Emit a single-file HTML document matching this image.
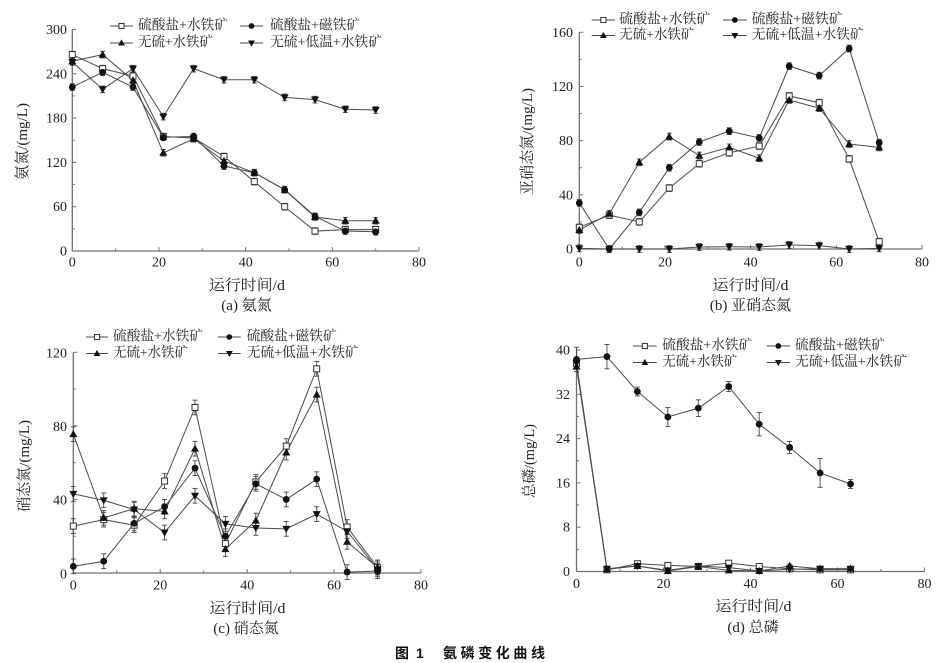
<!DOCTYPE html>
<html><head><meta charset="utf-8"><style>
html,body{margin:0;padding:0;background:#fff;}
svg{display:block;}
text{font-family:"Liberation Serif","Noto Serif CJK SC",serif;fill:#222;}
.t{font-size:14px;}
.lg{font-size:14px;}
.al{font-size:15px;}
.cap{font-family:"Liberation Sans","Noto Sans CJK SC",sans-serif;font-weight:bold;font-size:14px;fill:#111;}
</style></head><body>
<svg id="s" width="948" height="663" viewBox="0 0 948 663" xmlns="http://www.w3.org/2000/svg">
<g id="geo"></g>
<!-- Panel A ticks -->
<g class="t" text-anchor="middle" dominant-baseline="central">
<text x="72.3" y="263">0</text><text x="159" y="263">20</text><text x="245.7" y="263">40</text><text x="332.3" y="263">60</text><text x="419" y="263">80</text>
<text x="579.3" y="263">0</text><text x="665" y="263">20</text><text x="750.6" y="263">40</text><text x="836.3" y="263">60</text><text x="922" y="263">80</text>
<text x="73.3" y="586">0</text><text x="160.2" y="586">20</text><text x="247.2" y="586">40</text><text x="334.1" y="586">60</text><text x="421" y="586">80</text>
<text x="576.5" y="584.5">0</text><text x="663.5" y="584.5">20</text><text x="750.5" y="584.5">40</text><text x="837.5" y="584.5">60</text><text x="924.5" y="584.5">80</text>
</g>
<g class="t" text-anchor="end" dominant-baseline="central">
<text x="67" y="252">0</text><text x="67" y="207.7">60</text><text x="67" y="163.4">120</text><text x="67" y="119.1">180</text><text x="67" y="74.8">240</text><text x="67" y="30.5">300</text>
<text x="573" y="250">0</text><text x="573" y="195.8">40</text><text x="573" y="141.7">80</text><text x="573" y="87.5">120</text><text x="573" y="33.3">160</text>
<text x="67" y="575">0</text><text x="67" y="501">40</text><text x="67" y="427.5">80</text><text x="67" y="354">120</text>
<text x="570" y="572.5">0</text><text x="570" y="528.2">8</text><text x="570" y="483.9">16</text><text x="570" y="439.6">24</text><text x="570" y="395.3">32</text><text x="570" y="351">40</text>
</g>
<!-- axis titles -->
<g class="al" text-anchor="middle" dominant-baseline="central">
<text x="247" y="286" textLength="76" lengthAdjust="spacingAndGlyphs">运行时间/d</text>
<text x="246.5" y="306">(a) 氨氮</text>
<text x="750.5" y="286" textLength="76" lengthAdjust="spacingAndGlyphs">运行时间/d</text>
<text x="750.5" y="306">(b) 亚硝态氮</text>
<text x="247.5" y="609" textLength="76" lengthAdjust="spacingAndGlyphs">运行时间/d</text>
<text x="246" y="629">(c) 硝态氮</text>
<text x="753.5" y="607" textLength="76" lengthAdjust="spacingAndGlyphs">运行时间/d</text>
<text x="753" y="628">(d) 总磷</text>
<text transform="translate(23,141.5) rotate(-90)" textLength="77" lengthAdjust="spacingAndGlyphs">氨氮/(mg/L)</text>
<text transform="translate(528,141.5) rotate(-90)" textLength="107" lengthAdjust="spacingAndGlyphs">亚硝态氮/(mg/L)</text>
<text transform="translate(25,466) rotate(-90)" textLength="92" lengthAdjust="spacingAndGlyphs">硝态氮/(mg/L)</text>
<text transform="translate(530,461) rotate(-90)" textLength="74" lengthAdjust="spacingAndGlyphs">总磷/(mg/L)</text>
</g>
<!-- legends -->
<g class="lg" dominant-baseline="central">
<text x="138" y="26" textLength="90" lengthAdjust="spacingAndGlyphs">硫酸盐+水铁矿</text>
<text x="270" y="26" textLength="90" lengthAdjust="spacingAndGlyphs">硫酸盐+磁铁矿</text>
<text x="138" y="43" textLength="75" lengthAdjust="spacingAndGlyphs">无硫+水铁矿</text>
<text x="270" y="43" textLength="112" lengthAdjust="spacingAndGlyphs">无硫+低温+水铁矿</text>

<text x="619.3" y="20" textLength="91" lengthAdjust="spacingAndGlyphs">硫酸盐+水铁矿</text>
<text x="751.7" y="20" textLength="91" lengthAdjust="spacingAndGlyphs">硫酸盐+磁铁矿</text>
<text x="619.3" y="35.5" textLength="75" lengthAdjust="spacingAndGlyphs">无硫+水铁矿</text>
<text x="751.7" y="35.5" textLength="112" lengthAdjust="spacingAndGlyphs">无硫+低温+水铁矿</text>

<text x="113" y="337" textLength="90" lengthAdjust="spacingAndGlyphs">硫酸盐+水铁矿</text>
<text x="246.7" y="337" textLength="90" lengthAdjust="spacingAndGlyphs">硫酸盐+磁铁矿</text>
<text x="113" y="353.5" textLength="75" lengthAdjust="spacingAndGlyphs">无硫+水铁矿</text>
<text x="246.7" y="353.5" textLength="112" lengthAdjust="spacingAndGlyphs">无硫+低温+水铁矿</text>

<text x="662.3" y="346" textLength="90" lengthAdjust="spacingAndGlyphs">硫酸盐+水铁矿</text>
<text x="795" y="346" textLength="90" lengthAdjust="spacingAndGlyphs">硫酸盐+磁铁矿</text>
<text x="662.3" y="362.5" textLength="75" lengthAdjust="spacingAndGlyphs">无硫+水铁矿</text>
<text x="795" y="362.5" textLength="112" lengthAdjust="spacingAndGlyphs">无硫+低温+水铁矿</text>
</g>
<!-- caption -->
<text class="cap" x="395" y="658">图</text>
<text class="cap" x="416" y="658">1</text>
<text class="cap" x="443" y="658" letter-spacing="3.6">氨磷变化曲线</text>
</svg>
<script>
(function(){
var NS="http://www.w3.org/2000/svg";
var g=document.getElementById("geo");
function el(n,a){var e=document.createElementNS(NS,n);for(var k in a)e.setAttribute(k,a[k]);g.appendChild(e);return e;}
function marker(type,x,y,small){
  var s=small?0.85:1;
  if(type=="sq"){var h=3*s;el("rect",{x:x-h,y:y-h,width:2*h,height:2*h,fill:"#fff",stroke:"#333","stroke-width":1});}
  else if(type=="ci"){el("circle",{cx:x,cy:y,r:3.4*s,fill:"#111"});}
  else if(type=="tu"){el("polygon",{points:(x)+","+(y-4.2*s)+" "+(x+4*s)+","+(y+3*s)+" "+(x-4*s)+","+(y+3*s),fill:"#111"});}
  else {el("polygon",{points:(x)+","+(y+4.2*s)+" "+(x+4*s)+","+(y-3*s)+" "+(x-4*s)+","+(y-3*s),fill:"#111"});}
}
var P=[
 {x0:72.3,x1:419,y0:251,y1:29.5,ym:300,ys:60,err:4.5,n:11,
  d:{sq:[266,247,237,155,153,128,94,60,27,29,29],ci:[222,242,222,154,155,115,106,83,47,27,26],
     tu:[257,266,231,133,152,122,106,83,46,41,41],td:[256,219,247,182,247,232,232,208,205,192,191]},
  leg:{r:[26,43],c:[[110,133],[240,263]]}},
 {x0:579.3,x1:922,y0:249,y1:32.3,ym:160,ys:40,err:2.5,n:11,
  d:{sq:[16,25,20,45,63,71,76,113,108,66.5,5.4],ci:[34,0,27,60,79,87,82,135,128,148,78.5],
     tu:[14,26,64,83,69,75,67,110,104,77.5,75],td:[0.5,0,0,0,1.5,1.7,1.5,3,2.5,0,0.5]},
  leg:{r:[20,35.5],c:[[591.7,615],[723,746.7]]}},
 {x0:73.3,x1:421,y0:573,y1:352.3,ym:120,ys:40,err:4,n:11,
  d:{sq:[25.5,29,26,50,90,16,49.5,69,111,25,3],ci:[3.6,6.4,27,36,57,20,48.5,40,51,0.5,1],
     tu:[75.5,30,35,33.5,67.6,13,28.5,65.5,97,17,3],td:[43,39.5,34.5,22,42,26.7,24.5,24,32,22.7,2]},
  leg:{r:[337,353.5],c:[[86,108],[218,240.7]]}},
 {x0:576.5,x1:924.5,y0:571.5,y1:350,ym:40,ys:8,err:0.35,n:10,
  d:{sq:[37.6,0.3,1.4,1.1,0.9,1.5,0.9,0.5,0.3,0.3],ci:[38.3,38.8,32.5,27.9,29.5,33.4,26.6,22.4,17.8,15.8],
     tu:[37,0.4,1.0,0.1,0.9,0.2,0.1,1.0,0.5,0.5],td:[37.6,0.5,1.0,0.2,1.0,0.7,0.1,0.4,0.5,0.5]},
  ce:[2.2,2.2,0.8,1.7,1.5,0.9,2.1,1.1,2.6,0.8],
  leg:{r:[346,362.5],c:[[633,656.7],[766.7,790]]}}
];
P.forEach(function(p){
  var sx=(p.x1-p.x0)/80, sy=(p.y0-p.y1)/p.ym;
  var X=function(t){return p.x0+t*sx;}, Y=function(v){return p.y0-v*sy;};
  var ax="#707070";
  el("line",{x1:p.x0,y1:p.y0,x2:p.x1,y2:p.y0,stroke:ax,"stroke-width":1.3});
  el("line",{x1:p.x0,y1:p.y0,x2:p.x0,y2:p.y1,stroke:ax,"stroke-width":1.3});
  for(var t=0;t<=80;t+=10){var L=(t%20==0)?4:2.5;el("line",{x1:X(t),y1:p.y0,x2:X(t),y2:p.y0-L,stroke:ax,"stroke-width":1});}
  for(var v=0;v<=p.ym+1e-6;v+=p.ys/2){var L2=(Math.abs((v/p.ys)-Math.round(v/p.ys))<1e-6)?4:2.5;el("line",{x1:p.x0,y1:Y(v),x2:p.x0+L2,y2:Y(v),stroke:ax,"stroke-width":1});}
  var order=["sq","ci","tu","td"];
  order.forEach(function(k){
    var arr=p.d[k],pts=[];
    for(var i=0;i<arr.length;i++)pts.push(X(i*7).toFixed(2)+","+Y(arr[i]).toFixed(2));
    el("polyline",{points:pts.join(" "),fill:"none",stroke:"#4a4a4a","stroke-width":1});
  });
  order.forEach(function(k){
    var arr=p.d[k];
    for(var i=0;i<arr.length;i++){
      var e=(p.ce&&k=="ci")?p.ce[i]:p.err, x=X(i*7);
      var ya=Y(arr[i]+e), yb=Y(Math.max(arr[i]-e,p.ce?-0.3:arr[i]-e));
      el("line",{x1:x,y1:ya,x2:x,y2:yb,stroke:"#444","stroke-width":0.9});
      el("line",{x1:x-2.5,y1:ya,x2:x+2.5,y2:ya,stroke:"#444","stroke-width":0.9});
      el("line",{x1:x-2.5,y1:yb,x2:x+2.5,y2:yb,stroke:"#444","stroke-width":0.9});
    }
  });
  order.forEach(function(k){
    var arr=p.d[k];
    for(var i=0;i<arr.length;i++)marker(k,X(i*7),Y(arr[i]));
  });
  var lg=[["sq",0,0],["ci",0,1],["tu",1,0],["td",1,1]];
  lg.forEach(function(q){
    var y=p.leg.r[q[1]],c=p.leg.c[q[2]];
    el("line",{x1:c[0],y1:y,x2:c[1],y2:y,stroke:"#4a4a4a","stroke-width":1});
    marker(q[0],(c[0]+c[1])/2,y,true);
  });
});
})();
</script>
</body></html>
